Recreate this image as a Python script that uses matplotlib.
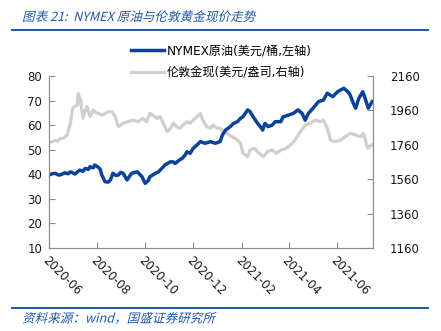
import pandas as pd
import numpy as np
import matplotlib
matplotlib.use("Agg")
import matplotlib.pyplot as plt
import matplotlib.dates as mdates
import matplotlib.transforms as mtransforms
from matplotlib.textpath import TextPath
from matplotlib.patches import PathPatch
from matplotlib.font_manager import FontProperties

plt.rcParams['font.family'] = ['DejaVu Sans', 'Noto Sans CJK SC']

# NYMEX 原油 (美元/桶, 左轴)
oil_dates = [
    "2020-06-01", "2020-06-05", "2020-06-09", "2020-06-12", "2020-06-15", "2020-06-19",
    "2020-06-21", "2020-06-25", "2020-06-28", "2020-07-01", "2020-07-04", "2020-07-08",
    "2020-07-10", "2020-07-14", "2020-07-17", "2020-07-21", "2020-07-23", "2020-07-27",
    "2020-07-29", "2020-08-02", "2020-08-05", "2020-08-07", "2020-08-11", "2020-08-15",
    "2020-08-18", "2020-08-21", "2020-08-25", "2020-08-28", "2020-08-31", "2020-09-03",
    "2020-09-08", "2020-09-12", "2020-09-14", "2020-09-18", "2020-09-21", "2020-09-24",
    "2020-09-27", "2020-10-01", "2020-10-05", "2020-10-07", "2020-10-11", "2020-10-14",
    "2020-10-18", "2020-10-20", "2020-10-24", "2020-10-26", "2020-10-30", "2020-11-02",
    "2020-11-06", "2020-11-08", "2020-11-12", "2020-11-17", "2020-11-21", "2020-11-23",
    "2020-11-27", "2020-12-01", "2020-12-06", "2020-12-10", "2020-12-16", "2020-12-23",
    "2020-12-29", "2021-01-04", "2021-01-07", "2021-01-11", "2021-01-17", "2021-01-21",
    "2021-01-26", "2021-01-30", "2021-02-02", "2021-02-08", "2021-02-11", "2021-02-15",
    "2021-02-20", "2021-02-24", "2021-02-27", "2021-03-02", "2021-03-06", "2021-03-11",
    "2021-03-15", "2021-03-22", "2021-03-25", "2021-04-01", "2021-04-07", "2021-04-13",
    "2021-04-18", "2021-04-22", "2021-04-26", "2021-05-02", "2021-05-09", "2021-05-15",
    "2021-05-20", "2021-05-27", "2021-06-02", "2021-06-06", "2021-06-10", "2021-06-15",
    "2021-06-18", "2021-06-22", "2021-06-25", "2021-06-29", "2021-07-04", "2021-07-07",
    "2021-07-11", "2021-07-16",
]
oil_values = [
    39.7, 40.2, 40.4, 39.8, 39.7, 40.3,
    40.6, 40.2, 41.0, 40.6, 40.1, 41.2,
    41.7, 41.2, 42.4, 42.0, 43.1, 42.6,
    43.8, 43.0, 42.0, 39.7, 37.0, 36.8,
    37.7, 40.4, 39.5, 39.7, 40.8, 40.4,
    37.7, 39.6, 40.4, 40.8, 41.0, 40.0,
    39.0, 36.3, 37.5, 39.0, 39.8, 40.4,
    41.0, 41.7, 43.0, 43.8, 44.5, 45.1,
    45.0, 44.4, 45.5, 46.5, 48.0, 49.2,
    48.5, 50.6, 52.0, 53.3, 52.6, 53.3,
    52.6, 53.3, 56.0, 58.0, 59.4, 60.7,
    61.4, 62.8, 63.4, 66.2, 65.5, 63.4,
    61.0, 59.4, 58.0, 60.7, 59.4, 60.0,
    61.4, 61.4, 63.4, 64.1, 64.8, 66.2,
    64.8, 62.0, 64.8, 66.9, 69.6, 70.2,
    73.0, 71.6, 73.6, 74.3, 75.0, 73.6,
    72.3, 68.9, 66.9, 70.9, 73.6, 70.9,
    66.9, 69.6,
]

# 伦敦金现 (美元/盎司, 右轴)
gold_dates = [
    "2020-06-01", "2020-06-05", "2020-06-09", "2020-06-12", "2020-06-15", "2020-06-19",
    "2020-06-21", "2020-06-24", "2020-06-28", "2020-07-01", "2020-07-04", "2020-07-07",
    "2020-07-08", "2020-07-10", "2020-07-11", "2020-07-14", "2020-07-17", "2020-07-19",
    "2020-07-23", "2020-07-27", "2020-07-29", "2020-08-02", "2020-08-05", "2020-08-08",
    "2020-08-15", "2020-08-20", "2020-08-24", "2020-08-28", "2020-08-31", "2020-09-03",
    "2020-09-09", "2020-09-15", "2020-09-22", "2020-09-28", "2020-10-03", "2020-10-07",
    "2020-10-16", "2020-10-20", "2020-10-24", "2020-10-29", "2020-11-02", "2020-11-06",
    "2020-11-10", "2020-11-14", "2020-11-18", "2020-11-23", "2020-11-27", "2020-12-01",
    "2020-12-06", "2020-12-10", "2020-12-13", "2020-12-18", "2020-12-23", "2020-12-26",
    "2020-12-31", "2021-01-04", "2021-01-08", "2021-01-13", "2021-01-19", "2021-01-26",
    "2021-01-30", "2021-02-02", "2021-02-08", "2021-02-11", "2021-02-17", "2021-02-20",
    "2021-02-28", "2021-03-05", "2021-03-11", "2021-03-16", "2021-03-23", "2021-03-29",
    "2021-04-06", "2021-04-09", "2021-04-16", "2021-04-22", "2021-04-28", "2021-05-05",
    "2021-05-11", "2021-05-15", "2021-05-20", "2021-05-24", "2021-05-30", "2021-06-06",
    "2021-06-12", "2021-06-18", "2021-06-25", "2021-07-01", "2021-07-05", "2021-07-10",
    "2021-07-16",
]
gold_values = [
    1775, 1778, 1785, 1782, 1795, 1798,
    1805, 1817, 1885, 1972, 1985, 1991,
    2059, 2030, 2020, 1914, 1960, 1982,
    1924, 1962, 1950, 1943, 1938, 1933,
    1952, 1952, 1924, 1865, 1875, 1885,
    1894, 1904, 1894, 1914, 1894, 1943,
    1914, 1924, 1885, 1836, 1856, 1885,
    1865, 1856, 1875, 1894, 1885, 1904,
    1924, 1943, 1904, 1865, 1856, 1875,
    1856, 1856, 1836, 1827, 1807, 1788,
    1769, 1711, 1691, 1730, 1740, 1720,
    1691, 1720, 1730, 1711, 1730, 1740,
    1769, 1788, 1836, 1875, 1885, 1904,
    1894, 1904, 1856, 1788, 1778, 1788,
    1807, 1827, 1817, 1807, 1827, 1740,
    1759,
]

oil_label = "NYMEX原油(美元/桶,左轴)"
gold_label = "伦敦金现(美元/盎司,右轴)"
title_text = "图表 21:  NYMEX 原油与伦敦黄金现价走势"
source_text = "资料来源：wind，国盛证券研究所"

W, H = 441, 331
fig = plt.figure(figsize=(W / 100, H / 100), dpi=100)
ax = fig.add_axes([49 / W, 1 - 248 / H, (373 - 49) / W, (248 - 76) / H])
ax2 = ax.twinx()

blue = '#0b429a'
grey = '#cfcfcf'
axis_grey = '#8c8c8c'
head_blue = '#1f58a8'

ax2.plot(pd.to_datetime(gold_dates), gold_values, color=grey, lw=2.3, label=gold_label)
ax.plot(pd.to_datetime(oil_dates), oil_values, color=blue, lw=2.5, label=oil_label)
ax.set_zorder(ax2.get_zorder() + 1)
ax.patch.set_visible(False)

ax.set_ylim(10, 80)
ax.set_yticks(np.arange(10, 81, 10))
ax2.set_ylim(1160, 2160)
ax2.set_yticks(np.arange(1160, 2161, 200))
ax.set_xlim(pd.Timestamp("2020-06-01"), pd.Timestamp("2021-07-17"))
ax.xaxis.set_major_locator(mdates.MonthLocator(bymonth=[2, 4, 6, 8, 10, 12]))
ax.xaxis.set_major_formatter(mdates.DateFormatter('%Y-%m'))

for a in (ax, ax2):
    a.spines['top'].set_visible(False)
    for s in ('left', 'right', 'bottom'):
        a.spines[s].set_color(axis_grey)
        a.spines[s].set_linewidth(0.8)
    a.tick_params(direction='in', length=4, width=0.8, color=axis_grey,
                  labelsize=8.5, labelcolor='#1a1a1a')
ax.tick_params(axis='y', pad=5)
ax2.tick_params(axis='y', pad=12)
ax.tick_params(axis='x', pad=4)
for lab in ax.get_xticklabels():
    lab.set_rotation(-45)
    lab.set_ha('left')
    lab.set_va('top')
    lab.set_rotation_mode('anchor')

h1, l1 = ax.get_legend_handles_labels()
h2, l2 = ax2.get_legend_handles_labels()
leg = fig.legend(h1 + h2, l1 + l2, loc='upper left',
                 bbox_to_anchor=(131 / W, 1 - 44 / H), frameon=False,
                 fontsize=8.7, handlelength=2.7, handletextpad=0.25,
                 labelspacing=0.8, borderpad=0, borderaxespad=0)

# header / footer rules
fig.add_artist(plt.Line2D([12 / W, 428 / W], [1 - 30 / H] * 2, color=head_blue, lw=1.4))
fig.add_artist(plt.Line2D([12 / W, 428 / W], [1 - 308 / H] * 2, color=head_blue, lw=1.4))


def slanted(s, x_px, base_px, size_px, color):
    tp = TextPath((0, 0), s, size=size_px, prop=FontProperties(family='Noto Sans CJK SC'))
    tr = mtransforms.Affine2D().skew_deg(14, 0).translate(x_px, H - base_px)
    fig.add_artist(PathPatch(tp, transform=tr, facecolor=color, edgecolor='none'))


slanted(title_text, 22, 21, 12.6, head_blue)
slanted(source_text, 22, 322.5, 12.6, head_blue)

fig.savefig("out.png", dpi=100)
